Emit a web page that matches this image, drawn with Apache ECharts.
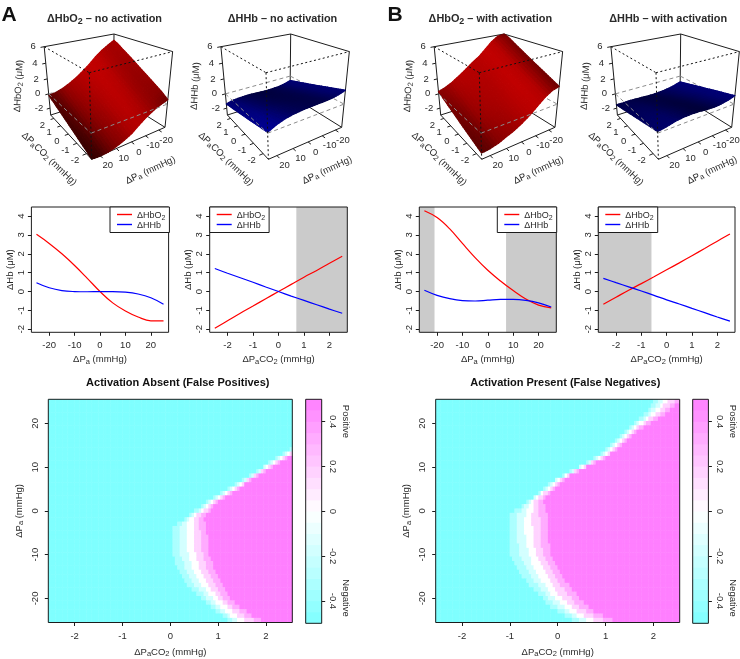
<!DOCTYPE html>
<html><head><meta charset="utf-8">
<style>html,body{margin:0;padding:0;background:#fff}#c{width:740px;height:659px}</style>
<script src="https://cdn.jsdelivr.net/npm/echarts@6/dist/echarts.min.js"></script>
</head><body><div id="c"></div>
<script>
// ---------- line panels ----------
const paGrid = [-25,-20,-15,-10,-5,0,5,10,15,20,25];
const co2Grid = [-2.5,-2,-1.5,-1,-0.5,0,0.5,1,1.5,2,2.5];
const paTicks = [-20,-10,0,10,20];
const co2Ticks = [-2,-1,0,1,2];
const hbTicks = [-2,-1,0,1,2,3,4];
const barTicks = [-0.4,-0.2,0,0.2,0.4];

const noActPaHbO2 = [3.03,2.55,2.0,1.38,0.7,0,-0.6,-1.03,-1.35,-1.55,-1.55];
const noActPaHHb = [0.47,0.2,0.05,0,-0.01,0,0,-0.03,-0.13,-0.33,-0.67];
const noActCo2HbO2 = [-1.95,-1.55,-1.15,-0.77,-0.38,0,0.38,0.76,1.12,1.5,1.87];
const noActCo2HHb = [1.22,0.97,0.73,0.49,0.24,0,-0.24,-0.47,-0.7,-0.93,-1.15];
const actPaHbO2 = [4.28,3.92,3.32,2.55,1.8,1.13,0.56,0.05,-0.4,-0.72,-0.87];
const actPaHHb = [0.07,-0.2,-0.38,-0.48,-0.5,-0.46,-0.42,-0.42,-0.47,-0.6,-0.82];
const actCo2HbO2 = [-0.67,-0.3,0.07,0.42,0.78,1.15,1.52,1.9,2.28,2.67,3.05];
const actCo2HHb = [0.7,0.47,0.25,0.03,-0.2,-0.44,-0.66,-0.89,-1.12,-1.35,-1.57];

const noActPaBands = [];
const noActCo2Bands = [[0.7,2.7]];
const actPaBands = [[-27,-21],[7.2,27]];
const actCo2Bands = [[-2.7,-0.6]];

// ---------- surfaces: rows = PaCO2 (co2Grid), columns = Pa (paGrid) ----------
const surfNoActHbO2 = [
[0.55,0.26,-0.10,-0.60,-1.23,-1.95,-2.40,-2.76,-3.01,-3.07,-2.97],
[1.14,0.72,0.34,-0.18,-0.83,-1.55,-2.02,-2.40,-2.67,-2.76,-2.68],
[1.62,1.18,0.78,0.24,-0.43,-1.15,-1.64,-2.04,-2.33,-2.45,-2.39],
[2.08,1.61,1.20,0.64,-0.05,-0.77,-1.28,-1.69,-2.00,-2.15,-2.11],
[2.54,2.06,1.63,1.05,0.34,-0.38,-0.91,-1.34,-1.67,-1.85,-1.83],
[3.00,2.50,2.05,1.45,0.72,0,-0.55,-1.00,-1.35,-1.55,-1.55],
[3.46,2.94,2.47,1.85,1.10,0.38,-0.19,-0.66,-1.03,-1.25,-1.27],
[3.91,3.37,2.89,2.25,1.48,0.76,0.17,-0.32,-0.70,-0.96,-1.00],
[4.34,3.79,3.28,2.63,1.84,1.12,0.51,0.01,-0.40,-0.68,-0.73],
[4.80,4.23,3.70,3.03,2.22,1.50,0.88,0.35,-0.08,-0.38,-0.46],
[5.15,4.65,4.11,3.41,2.59,1.87,1.23,0.68,0.24,-0.09,-0.19]];
const surfNoActHHb = [
[1.69,1.42,1.27,1.22,1.21,1.18,1.13,1.04,0.87,0.55,0.10],
[1.44,1.17,1.02,0.97,0.96,0.94,0.90,0.82,0.67,0.37,-0.06],
[1.20,0.93,0.78,0.73,0.72,0.71,0.68,0.61,0.47,0.20,-0.21],
[0.96,0.69,0.54,0.49,0.48,0.48,0.46,0.40,0.27,0.02,-0.36],
[0.71,0.44,0.29,0.24,0.23,0.23,0.22,0.18,0.07,-0.16,-0.52],
[0.47,0.20,0.05,0,-0.01,0,0,-0.03,-0.13,-0.33,-0.67],
[0.23,-0.04,-0.19,-0.24,-0.25,-0.23,-0.22,-0.24,-0.33,-0.50,-0.82],
[0,-0.27,-0.42,-0.47,-0.48,-0.46,-0.44,-0.44,-0.52,-0.67,-0.97],
[-0.23,-0.50,-0.65,-0.70,-0.71,-0.68,-0.65,-0.65,-0.70,-0.83,-1.11],
[-0.46,-0.73,-0.88,-0.93,-0.94,-0.90,-0.86,-0.85,-0.89,-1.00,-1.26],
[-0.68,-0.95,-1.10,-1.15,-1.16,-1.12,-1.07,-1.04,-1.07,-1.16,-1.40]];
const surfActHbO2 = [
[2.13,1.92,1.41,0.66,-0.07,-0.67,-1.18,-1.55,-1.94,-2.17,-2.26],
[2.53,2.31,1.79,1.04,0.30,-0.30,-0.83,-1.23,-1.64,-1.89,-2.00],
[2.93,2.71,2.18,1.42,0.67,0.07,-0.48,-0.90,-1.34,-1.61,-1.75],
[3.31,3.08,2.54,1.78,1.02,0.42,-0.14,-0.59,-1.05,-1.35,-1.50],
[3.70,3.46,2.92,2.14,1.38,0.78,0.20,-0.28,-0.75,-1.08,-1.26],
[4.10,3.85,3.30,2.52,1.75,1.15,0.55,0.05,-0.45,-0.80,-1.00],
[4.50,4.24,3.68,2.90,2.12,1.52,0.90,0.38,-0.15,-0.52,-0.74],
[4.91,4.65,4.08,3.29,2.50,1.90,1.26,0.71,0.17,-0.24,-0.48],
[5.32,5.05,4.48,3.67,2.88,2.28,1.62,1.04,0.48,0.05,-0.22],
[5.74,5.46,4.88,4.07,3.27,2.67,1.99,1.39,0.80,0.34,0.05],
[6.00,5.86,5.28,4.46,3.65,3.05,2.36,1.72,1.11,0.63,0.31]];
const surfActHHb = [
[1.04,0.77,0.61,0.55,0.58,0.68,0.72,0.69,0.56,0.33,0.18],
[0.84,0.57,0.41,0.34,0.36,0.45,0.49,0.46,0.35,0.15,0],
[0.66,0.39,0.22,0.14,0.16,0.23,0.27,0.25,0.15,-0.03,-0.16],
[0.47,0.20,0.03,-0.06,-0.05,0.01,0.05,0.04,-0.05,-0.21,-0.33],
[0.27,0,-0.17,-0.26,-0.27,-0.22,-0.18,-0.19,-0.25,-0.40,-0.50],
[0.07,-0.20,-0.38,-0.48,-0.50,-0.46,-0.42,-0.42,-0.47,-0.60,-0.68],
[-0.12,-0.39,-0.57,-0.68,-0.71,-0.68,-0.64,-0.63,-0.67,-0.78,-0.85],
[-0.31,-0.58,-0.77,-0.89,-0.93,-0.91,-0.87,-0.86,-0.88,-0.97,-1.02],
[-0.51,-0.78,-0.97,-1.09,-1.15,-1.14,-1.10,-1.08,-1.08,-1.16,-1.19],
[-0.70,-0.97,-1.17,-1.30,-1.36,-1.37,-1.33,-1.30,-1.29,-1.35,-1.36],
[-0.89,-1.16,-1.36,-1.50,-1.57,-1.59,-1.55,-1.52,-1.49,-1.53,-1.53]];

// ---------- heat maps: one row per Pa (25 .. -25); each row lists where, along PaCO2,
// the colour changes from one bandValues entry to the next ----------
const bandValues = [-0.5,-0.33,-0.17,0,0.17,0.33,0.5];
const barLevels = [-0.475,-0.425,-0.375,-0.325,-0.275,-0.225,-0.175,-0.125,-0.075,-0.025,0.025,0.075,0.125,0.175,0.225,0.275,0.325,0.375,0.425,0.475];
const absentEdges = [[],[],[],[],[],[],[],[],[],[],[],
[2.51,2.55,2.60,2.64,2.69,2.73],[2.36,2.40,2.45,2.49,2.54,2.58],[2.21,2.25,2.30,2.34,2.39,2.43],
[2.07,2.11,2.16,2.20,2.25,2.29],[1.93,1.97,2.02,2.06,2.11,2.15],[1.79,1.83,1.88,1.92,1.97,2.01],
[1.64,1.68,1.73,1.77,1.82,1.86],[1.49,1.53,1.58,1.62,1.67,1.71],[1.35,1.39,1.44,1.48,1.53,1.57],
[1.21,1.25,1.30,1.34,1.39,1.43],[1.06,1.10,1.15,1.19,1.24,1.28],[0.91,0.95,1.00,1.04,1.09,1.13],
[0.77,0.81,0.86,0.90,0.95,0.99],[0.65,0.70,0.74,0.79,0.86,0.92],[0.52,0.58,0.63,0.69,0.78,0.86],
[0.39,0.45,0.50,0.57,0.67,0.76],[0.28,0.34,0.40,0.49,0.61,0.72],[0.15,0.26,0.37,0.48,0.61,0.73],
[0.07,0.21,0.35,0.48,0.62,0.76],[0.04,0.20,0.36,0.50,0.64,0.77],[0.03,0.19,0.35,0.50,0.64,0.78],
[0.03,0.19,0.35,0.50,0.65,0.79],[0.03,0.19,0.35,0.50,0.65,0.80],[0.04,0.20,0.36,0.51,0.66,0.81],
[0.05,0.22,0.38,0.53,0.68,0.82],[0.08,0.25,0.41,0.56,0.71,0.85],[0.11,0.28,0.44,0.59,0.74,0.88],
[0.14,0.31,0.47,0.62,0.77,0.91],[0.18,0.34,0.50,0.65,0.80,0.95],[0.23,0.39,0.54,0.69,0.84,0.99],
[0.29,0.45,0.60,0.74,0.89,1.03],[0.37,0.52,0.66,0.80,0.94,1.08],[0.45,0.59,0.73,0.86,1.00,1.14],
[0.54,0.68,0.81,0.93,1.06,1.19],[0.64,0.76,0.88,1.00,1.12,1.24],[0.74,0.86,0.97,1.09,1.22,1.34],
[0.83,0.95,1.07,1.18,1.31,1.44],[0.95,1.06,1.17,1.29,1.44,1.58],[1.08,1.18,1.27,1.40,1.56,1.72],
[1.22,1.32,1.41,1.54,1.73,1.91]];
const presentEdges = [
[2.00,2.10,2.20,2.31,2.43,2.54],[1.94,2.04,2.13,2.22,2.34,2.45],[1.89,1.97,2.04,2.13,2.24,2.35],
[1.82,1.89,1.96,2.04,2.14,2.24],[1.71,1.78,1.85,1.92,2.00,2.08],[1.61,1.67,1.72,1.79,1.86,1.93],
[1.49,1.55,1.60,1.65,1.72,1.79],[1.38,1.43,1.48,1.53,1.59,1.65],[1.28,1.33,1.38,1.43,1.48,1.53],
[1.22,1.27,1.31,1.35,1.41,1.46],[1.12,1.16,1.20,1.24,1.29,1.34],[1.02,1.06,1.10,1.14,1.19,1.23],
[0.92,0.96,0.99,1.03,1.08,1.12],[0.77,0.81,0.85,0.89,0.94,0.98],[0.61,0.65,0.68,0.72,0.76,0.80],
[0.43,0.47,0.50,0.54,0.58,0.62],[0.27,0.30,0.33,0.37,0.41,0.45],[0.09,0.13,0.16,0.19,0.23,0.27],
[-0.06,-0.03,0,0.04,0.08,0.13],[-0.18,-0.15,-0.11,-0.06,0,0.05],[-0.29,-0.25,-0.22,-0.17,-0.11,-0.05],
[-0.40,-0.37,-0.33,-0.28,-0.21,-0.13],[-0.51,-0.48,-0.44,-0.38,-0.31,-0.24],[-0.63,-0.59,-0.54,-0.48,-0.40,-0.32],
[-0.76,-0.68,-0.60,-0.51,-0.39,-0.27],[-0.89,-0.77,-0.64,-0.51,-0.38,-0.24],[-0.98,-0.83,-0.67,-0.53,-0.38,-0.22],
[-0.99,-0.84,-0.68,-0.53,-0.37,-0.21],[-0.99,-0.84,-0.68,-0.53,-0.37,-0.21],[-1.00,-0.84,-0.68,-0.52,-0.37,-0.21],
[-1.00,-0.84,-0.68,-0.52,-0.37,-0.21],[-1.00,-0.83,-0.67,-0.52,-0.36,-0.20],[-1.00,-0.83,-0.66,-0.50,-0.35,-0.19],
[-1.00,-0.82,-0.64,-0.49,-0.33,-0.17],[-0.99,-0.81,-0.62,-0.47,-0.32,-0.16],[-0.98,-0.79,-0.60,-0.44,-0.29,-0.14],
[-0.94,-0.75,-0.56,-0.40,-0.25,-0.10],[-0.90,-0.72,-0.53,-0.37,-0.21,-0.05],[-0.85,-0.67,-0.48,-0.32,-0.16,0],
[-0.79,-0.61,-0.43,-0.27,-0.12,0.04],[-0.73,-0.56,-0.38,-0.22,-0.07,0.09],[-0.65,-0.49,-0.33,-0.17,-0.01,0.15],
[-0.58,-0.42,-0.26,-0.11,0.06,0.23],[-0.49,-0.35,-0.20,-0.05,0.13,0.30],[-0.40,-0.27,-0.13,0.02,0.20,0.38],
[-0.32,-0.18,-0.04,0.10,0.28,0.47],[-0.23,-0.09,0.05,0.20,0.37,0.55],[-0.13,0.01,0.15,0.30,0.47,0.64],
[-0.01,0.13,0.27,0.42,0.60,0.77],[0.14,0.28,0.42,0.57,0.75,0.93],[0.32,0.45,0.59,0.74,0.94,1.15]];

// ---------- styling ----------
const FONT = '"Liberation Sans", Arial, sans-serif';
const INK = '#2a2a2a', BOX = '#1c1c1c';
const richFor = (fs, weight) => ({
  n:{fontSize:fs,fontWeight:weight||'normal',color:INK,fontFamily:FONT,lineHeight:fs+3,verticalAlign:'bottom'},
  s:{fontSize:fs-2,fontWeight:weight||'normal',color:INK,fontFamily:FONT,lineHeight:fs-2,verticalAlign:'bottom',padding:[0,0,-1,0]}
});
const NAME_PA = '{n|ΔP}{s|a}{n| (mmHg)}';
const NAME_CO2 = '{n|ΔP}{s|a}{n|CO}{s|2}{n| (mmHg)}';
const NAME_HB = '{n|ΔHb (μM)}';

const option = {
  animation:false,
  textStyle:{fontFamily:FONT},
  title:[],grid:[],xAxis:[],yAxis:[],series:[],legend:[],
  visualMap:[],graphic:[]
};
function addGrid(l,t,w,h,extra){ option.grid.push(Object.assign({left:l,top:t,width:w,height:h,containLabel:false,show:true,z:5,backgroundColor:'transparent',borderColor:BOX,borderWidth:1},extra||{})); return option.grid.length-1; }
function valueAxis(kind,g,min,max,ticks,name,nameGap,opts){
  opts=opts||{};
  const ax={type:'value',gridIndex:g,min,max,scale:true,
    position:opts.position,
    splitLine:{show:false},
    axisLine:{show:false,onZero:false},
    axisTick:{show:true,length:3.5,lineStyle:{color:BOX,width:1},customValues:ticks},
    axisLabel:{show:true,fontSize:opts.fs||9.5,color:INK,margin:opts.margin,rotate:opts.rotate||0,customValues:ticks,showMinLabel:true,showMaxLabel:true,hideOverlap:false},
    name:name||'',nameLocation:'middle',nameGap:nameGap,nameRotate:opts.nameRotate,
    nameTextStyle:{rich:richFor(opts.nfs||9.5),fontSize:opts.nfs||9.5}};
  option[kind].push(ax);
  return option[kind].length-1;
}
function addLinePanel(left,width,top,height,xRange,xTicks,xName,xVals,red,blue,bands,legendLeft){
  const g=addGrid(left,top,width,height);
  const xi=valueAxis('xAxis',g,xRange[0],xRange[1],xTicks,xName,20,{margin:8});
  const yi=valueAxis('yAxis',g,-2.16,4.48,hbTicks,NAME_HB,16,{margin:5,rotate:90,nameRotate:90});
  const pts=a=>xVals.map((x,i)=>[x,a[i]]);
  const common={type:'line',xAxisIndex:xi,yAxisIndex:yi,symbol:'none',showSymbol:false,smooth:0.4,silent:true,z:3};
  option.series.push(Object.assign({},common,{name:'ΔHbO2',data:pts(red),lineStyle:{color:'#ff0000',width:1.2},itemStyle:{color:'#ff0000'},
    markArea:{silent:true,z:1,itemStyle:{color:'#cbcbcb',opacity:1},label:{show:false},data:bands.map(b=>[{xAxis:b[0]},{xAxis:b[1]}])}}));
  option.series.push(Object.assign({},common,{name:'ΔHHb',data:pts(blue),lineStyle:{color:'#0000ff',width:1.2},itemStyle:{color:'#0000ff'}}));
  option.legend.push({show:true,left:legendLeft,top:top,orient:'vertical',selectedMode:false,
    z:6,backgroundColor:'#fff',borderColor:BOX,borderWidth:1,
    data:[{name:'ΔHbO2',icon:'rect',itemStyle:{color:'#ff0000',borderWidth:0,opacity:1}},
          {name:'ΔHHb',icon:'rect',itemStyle:{color:'#0000ff',borderWidth:0,opacity:1}}],
    padding:[4.5,4,2,7],itemWidth:15,itemHeight:1.4,itemGap:0,
    formatter:n=>n==='ΔHbO2'?'{n|ΔHbO}{s|2}':'{n|ΔHHb}',
    textStyle:{rich:richFor(9),fontSize:9}});
}
addLinePanel(31.4,137.2,207,125.3,[-27,27],paTicks,NAME_PA,paGrid,noActPaHbO2,noActPaHHb,noActPaBands,110);
addLinePanel(209.7,137.6,207,125.3,[-2.7,2.7],co2Ticks,NAME_CO2,co2Grid,noActCo2HbO2,noActCo2HHb,noActCo2Bands,209.7);
addLinePanel(419.3,137,207,125.3,[-27,27],paTicks,NAME_PA,paGrid,actPaHbO2,actPaHHb,actPaBands,497.3);
addLinePanel(598.3,136.7,207,125.3,[-2.7,2.7],co2Ticks,NAME_CO2,co2Grid,actCo2HbO2,actCo2HHb,actCo2Bands,598.3);

// ---------- heat maps ----------
const heatSeries=[];
const colCentres=[]; for(let c=0;c<102;c++) colCentres.push(+(-2.525+c*0.05).toFixed(3));
const rowCentres=[]; for(let p=-25;p<=25;p++) rowCentres.push(p);
function expandRows(edgesByRow){
  const out=[];
  edgesByRow.forEach((edges,r)=>{
    colCentres.forEach((x,c)=>{
      let b=0; while(b<edges.length && edges[b]<=x) b++;
      out.push([c,50-r,bandValues[b]]);
    });
  });
  return out;
}
function addHeat(left,edges,barLeft,barWidth){
  const top=399.3,h=224,w=244;
  const g=addGrid(left,top,w,h);
  option.xAxis.push({type:'category',gridIndex:g,data:colCentres,show:false,position:'bottom'});
  const cx=option.xAxis.length-1;
  option.yAxis.push({type:'category',gridIndex:g,data:rowCentres,show:false,position:'left'});
  const cy=option.yAxis.length-1;
  valueAxis('xAxis',g,-2.55,2.55,co2Ticks,NAME_CO2,22,{margin:9,position:'bottom'});
  valueAxis('yAxis',g,-25.5,25.5,[-20,-10,0,10,20],NAME_PA,24,{margin:8,rotate:90,nameRotate:90,position:'left'});
  heatSeries.push(option.series.length);
  option.series.push({type:'heatmap',xAxisIndex:cx,yAxisIndex:cy,data:expandRows(edges),progressive:0,silent:true,z:2});
  // colour bar
  const gb=addGrid(barLeft,top,barWidth,h);
  option.xAxis.push({type:'category',gridIndex:gb,data:['bar'],show:false});
  const bx=option.xAxis.length-1;
  option.yAxis.push({type:'category',gridIndex:gb,data:barLevels,show:false,position:'right'});
  const by=option.yAxis.length-1;
  valueAxis('yAxis',gb,-0.5,0.5,barTicks,'',0,{position:'right',margin:6,rotate:-90});
  heatSeries.push(option.series.length);
  option.series.push({type:'heatmap',xAxisIndex:bx,yAxisIndex:by,data:barLevels.map((v,i)=>[0,i,v]),progressive:0,silent:true,z:2});
  const tx=barLeft+barWidth+24;
  ['Positive','Negative'].forEach((t,i)=>option.graphic.push({type:'text',x:tx,y:i?598:421.5,rotation:-Math.PI/2,
    style:{text:t,fontSize:9.5,fontFamily:FONT,fill:INK,textAlign:'center',textVerticalAlign:'middle'}}));
}
addHeat(48.3,absentEdges,305.7,16);
addHeat(435.7,presentEdges,692.7,15.7);
option.visualMap.push({show:false,type:'continuous',min:-0.5,max:0.5,dimension:2,seriesIndex:heatSeries,
  inRange:{color:['#7fffff','#ffffff','#ff7fff']}});

// ---------- 3-D surfaces ----------
// camera: maps normalised box coordinates to the panel plane, fitted to the drawn box corners
const BN=[91.7,159.3],BL=[50.7,115],BR=[165,127.3],TN=[89.3,72.7],TB=[114,34],TL=[42.7,45.7],TR=[172.7,52.7];
function det3(m){return m[0][0]*(m[1][1]*m[2][2]-m[1][2]*m[2][1])-m[0][1]*(m[1][0]*m[2][2]-m[1][2]*m[2][0])+m[0][2]*(m[1][0]*m[2][1]-m[1][1]*m[2][0]);}
function solve3(a,b,c,r){
  const m=[[a[0],b[0],c[0]],[a[1],b[1],c[1]],[1,1,1]],d=det3(m);
  return [0,1,2].map(k=>{const n=m.map((row,i)=>row.map((v,j)=>j===k?r[i]:v));return det3(n)/d;});
}
const hom=(p,k)=>[p[0]*k,p[1]*k,k];
let cam=null,bestErr=1e18;
for(let s=0.3;s<3;s+=0.005){
  const [al,be,ga]=solve3(BL,BR,TN,[s*TB[0]+2*BN[0],s*TB[1]+2*BN[1],s+2]);
  const O=hom(BN,1),U=hom(BL,al),V=hom(BR,be),W=hom(TN,ga);
  const c={O,du:U.map((v,i)=>v-O[i]),dv:V.map((v,i)=>v-O[i]),dw:W.map((v,i)=>v-O[i])};
  const pr=(u,v,w)=>{const h=[0,1,2].map(i=>c.O[i]+u*c.du[i]+v*c.dv[i]+w*c.dw[i]);return [h[0]/h[2],h[1]/h[2]];};
  const a=pr(1,0,1),b=pr(0,1,1);
  const e=(a[0]-TL[0])**2+(a[1]-TL[1])**2+(b[0]-TR[0])**2+(b[1]-TR[1])**2;
  if(e<bestErr){bestErr=e;cam=pr;}
}
const ZMIN=-3,ZMAX=6;
const toU=c=>(c+2.5)/5, toV=p=>(25-p)/50, toW=z=>(z-ZMIN)/(ZMAX-ZMIN);
const LIGHT=[-0.1,-0.8,0.6];
// brightness at each grid vertex (from the local slope), used to colour the facets smoothly
function vertexLight(z,gamma,floor){
  const n=z.length,m=z[0].length;
  return z.map((row,i)=>row.map((_,j)=>{
    const i0=Math.max(0,i-1),i1=Math.min(n-1,i+1),j0=Math.max(0,j-1),j1=Math.min(m-1,j+1);
    const ddu=(z[i1][j]-z[i0][j])/(i1-i0)/9/0.1;
    const ddv=(z[i][j0]-z[i][j1])/(j1-j0)/9/0.1;
    const len=Math.hypot(ddu,ddv,1);
    const c=Math.max(0,(-ddu*LIGHT[0]-ddv*LIGHT[1]+LIGHT[2])/len);
    return floor+(1-floor)*Math.pow(c,gamma);
  }));
}
const SUB=3;
function add3D(offset,matrix,rgbBase,gamma,floor,titleName,paNameX){
  const g=addGrid(offset,0,173,195,{show:false});
  const xi=option.xAxis.push({type:'value',gridIndex:g,min:0,max:173,show:false})-1;
  const yi=option.yAxis.push({type:'value',gridIndex:g,min:0,max:195,inverse:true,show:false})-1;
  const P=(api,u,v,w)=>api.coord(cam(u,v,w));
  const seg=(api,a,b,style)=>{const p=P(api,a[0],a[1],a[2]),q=P(api,b[0],b[1],b[2]);
    return {type:'line',shape:{x1:p[0],y1:p[1],x2:q[0],y2:q[1]},style};};
  const solid={stroke:BOX,lineWidth:1,fill:null};
  const dotted={stroke:'#111',lineWidth:1,lineDash:[2,2.5],fill:null};
  const grey={stroke:'#8c8c8c',lineWidth:1,lineDash:[4,3],fill:null};
  const w0=toW(0);
  const light=vertexLight(matrix,gamma,floor);
  // back of the box
  option.series.push({type:'custom',xAxisIndex:xi,yAxisIndex:yi,data:[[0,0]],silent:true,z:3,
    renderItem:(p,api)=>({type:'group',children:[
      seg(api,[1,0,1],[1,1,1],solid),seg(api,[1,1,1],[0,1,1],solid),seg(api,[1,1,1],[1,1,0],solid),
      seg(api,[1,0,1],[1,0,0],solid),seg(api,[0,1,1],[0,1,0],solid),
      seg(api,[1,0,0],[1,1,0],solid),seg(api,[1,1,0],[0,1,0],solid),
      seg(api,[1,0,0],[0,0,0],solid),seg(api,[0,0,0],[0,1,0],solid),
      seg(api,[1,0,w0],[1,1,w0],grey),seg(api,[1,1,w0],[0,1,w0],grey)
    ]})});
  // surface, far corner first; each facet is split only so its colour can vary smoothly
  option.series.push({type:'custom',xAxisIndex:xi,yAxisIndex:yi,data:[[0,0]],silent:true,z:4,
    renderItem:(p,api)=>{
      const children=[];
      for(let i=co2Grid.length-2;i>=0;i--) for(let j=0;j<paGrid.length-1;j++){
        const at=(a,b,t)=>{ // bilinear position inside the facet, a along PaCO2, b along Pa
          const f=(m)=>(1-a)*((1-b)*m[i][j]+b*m[i][j+1])+a*((1-b)*m[i+1][j]+b*m[i+1][j+1]);
          return f(t);};
        const pt=(a,b)=>{
          const c=co2Grid[i]+a*(co2Grid[i+1]-co2Grid[i]),pa=paGrid[j]+b*(paGrid[j+1]-paGrid[j]);
          return P(api,toU(c),toV(pa),toW(at(a,b,matrix)));};
        for(let s=SUB-1;s>=0;s--) for(let t=0;t<SUB;t++){
          const a0=s/SUB,a1=(s+1)/SUB,b0=t/SUB,b1=(t+1)/SUB;
          const br=at((a0+a1)/2,(b0+b1)/2,light);
          const col='rgb('+rgbBase.map(v=>Math.round(v*br)).join(',')+')';
          children.push({type:'polygon',shape:{points:[pt(a0,b0),pt(a1,b0),pt(a1,b1),pt(a0,b1)]},
            style:{fill:col,stroke:col,lineWidth:1.2,lineJoin:'round'}});
        }
      }
      return {type:'group',children};
    }});
  // front of the box, ticks, labels
  option.series.push({type:'custom',xAxisIndex:xi,yAxisIndex:yi,data:[[0,0]],silent:true,z:6,
    renderItem:(p,api)=>{
      const ch=[
        seg(api,[1,0,w0],[0,0,w0],grey),seg(api,[0,0,w0],[0,1,w0],grey),
        seg(api,[1,0,1],[0,0,1],dotted),seg(api,[0,0,1],[0,1,1],dotted),seg(api,[0,0,1],[0,0,0],dotted)];
      const label=(t,pos,fs,rot,rich)=>({type:'text',x:pos[0],y:pos[1],rotation:rot||0,
        style:{text:t,fontSize:fs,fontFamily:FONT,fill:INK,align:'center',verticalAlign:'middle',rich:rich}});
      co2Ticks.forEach(c=>{const u=toU(c);
        ch.push(seg(api,[u,0,0],[u,-0.045,0],solid));
        const q=P(api,u,0,0);
        ch.push(label(String(c),[q[0]-11.5,q[1]+7],9.5));});
      paTicks.forEach(pa=>{const v=toV(pa);
        ch.push(seg(api,[0,v,0],[-0.045,v,0],solid));
        const q=P(api,0,v,0);
        ch.push(label(String(pa),[q[0]+7.5,q[1]+10],9.5));});
      [-2,0,2,4,6].forEach(z=>{const w=toW(z);
        ch.push(seg(api,[1,0,w],[1,-0.045,w],solid));
        const q=P(api,1,0,w);
        ch.push(label(String(z),[q[0]-11,q[1]],9.5));});
      const r=richFor(9.5);
      ch.push(label(NAME_CO2,api.coord([50,158]),9.5,-44*Math.PI/180,r));
      ch.push(label(NAME_PA,api.coord([paNameX,169]),9.5,25*Math.PI/180,r));
      ch.push(label(titleName,api.coord([17.5,86]),9.5,87*Math.PI/180,r));
      return {type:'group',children:ch};
    }});
}
const RED=[212,0,0],BLUE=[0,0,190];
add3D(0,surfNoActHbO2,RED,2.6,0.08,'{n|ΔHbO}{s|2}{n| (μM)}',150);
add3D(176.7,surfNoActHHb,BLUE,1.9,0.05,'{n|ΔHHb (μM)}',150);
add3D(390,surfActHbO2,RED,2.6,0.08,'{n|ΔHbO}{s|2}{n| (μM)}',148);
add3D(566.7,surfActHHb,BLUE,1.9,0.05,'{n|ΔHHb (μM)}',145);

// ---------- titles ----------
function addTitle(text,x,y,fs){
  option.title.push({text,left:x,top:y,textAlign:'center',textVerticalAlign:'middle',padding:0,
    textStyle:{fontSize:fs,fontWeight:'bold',color:'#111',fontFamily:FONT,rich:richFor(fs,'bold')}});
}
addTitle('{n|ΔHbO}{s|2}{n| – no activation}',104.5,17.7,10.9);
addTitle('{n|ΔHHb – no activation}',282.5,17.7,10.9);
addTitle('{n|ΔHbO}{s|2}{n| – with activation}',490.3,17.7,10.9);
addTitle('{n|ΔHHb – with activation}',668.2,17.7,10.9);
addTitle('Activation Absent (False Positives)',177.8,383.3,11);
addTitle('Activation Present (False Negatives)',565.3,383.3,11);
addTitle('A',9,15,21);
addTitle('B',395,15,21);

const chart=echarts.init(document.getElementById('c'),null,{renderer:'canvas'});
chart.setOption(option);
</script></body></html>
